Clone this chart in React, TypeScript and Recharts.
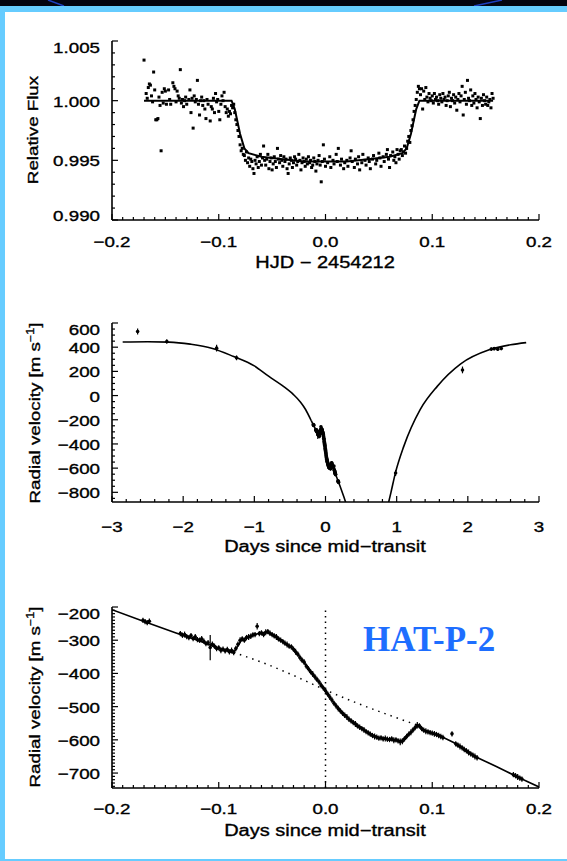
import React from 'react';
import { ComposedChart, ErrorBar, Line, ReferenceLine, Scatter, XAxis, YAxis } from 'recharts';

const FONT = '"Liberation Sans", Arial, Helvetica, sans-serif';
const INK = '#000';
const W = 567;

// ---- top panel: HAT-P-2 transit light curve (x = HJD - 2454212, y = relative flux) ----
const fluxPre: [number, number][] = [
  [-0.170, 1.0034], [-0.168, 1.0006], [-0.167, 1.0002], [-0.166, 1.0011], [-0.165, 1.0014], [-0.164, 1.0013],
  [-0.163, 1.0004], [-0.162, 0.9999], [-0.161, 1.0024], [-0.160, 1.0009], [-0.159, 0.9984], [-0.158, 0.9984],
  [-0.157, 0.9985], [-0.156, 1.0003], [-0.155, 0.9996], [-0.154, 0.9958], [-0.153, 1.0007], [-0.152, 0.9998],
  [-0.151, 1.0010], [-0.150, 1.0008], [-0.149, 0.9997], [-0.147, 1.0009], [-0.146, 1.0001], [-0.145, 0.9997],
  [-0.143, 1.0015], [-0.142, 1.0012], [-0.141, 1.0010], [-0.140, 0.9999], [-0.139, 1.0008], [-0.138, 1.0004],
  [-0.137, 1.0002], [-0.136, 1.0026], [-0.135, 0.9998], [-0.134, 1.0001], [-0.133, 0.9995], [-0.132, 1.0000],
  [-0.131, 1.0003], [-0.130, 0.9997], [-0.128, 1.0001], [-0.127, 1.0009], [-0.126, 0.9990], [-0.125, 1.0002],
  [-0.124, 0.9977], [-0.123, 1.0004], [-0.122, 0.9999], [-0.121, 1.0001], [-0.120, 1.0017], [-0.119, 0.9997],
  [-0.118, 0.9988], [-0.117, 1.0000], [-0.116, 1.0003], [-0.115, 0.9996], [-0.114, 1.0000], [-0.113, 0.9993],
  [-0.112, 0.9985], [-0.111, 1.0001], [-0.110, 0.9997], [-0.108, 0.9983], [-0.107, 0.9995], [-0.106, 0.9993],
  [-0.105, 1.0002], [-0.104, 0.9990], [-0.103, 1.0006], [-0.102, 0.9999], [-0.101, 1.0001], [-0.100, 0.9991],
  [-0.099, 0.9984], [-0.098, 0.9997], [-0.097, 1.0004], [-0.096, 1.0000], [-0.095, 1.0007], [-0.094, 0.9995],
  [-0.093, 0.9990], [-0.092, 0.9993], [-0.091, 0.9987], [-0.090, 0.9991], [-0.089, 0.9989], [-0.088, 0.9996],
  [-0.087, 0.9994], [-0.086, 0.9997], [-0.085, 0.9990], [-0.084, 0.9984], [-0.083, 0.9980], [-0.082, 0.9975],
  [-0.081, 0.9970], [-0.080, 0.9963], [-0.079, 0.9958], [-0.078, 0.9960],
];
const fluxIn: [number, number][] = [
  [-0.077, 0.9955], [-0.076, 0.9954], [-0.075, 0.9950], [-0.074, 0.9957], [-0.073, 0.9948], [-0.072, 0.9952],
  [-0.071, 0.9945], [-0.070, 0.9951], [-0.069, 0.9949], [-0.068, 0.9943], [-0.067, 0.9939], [-0.066, 0.9950],
  [-0.065, 0.9947], [-0.064, 0.9953], [-0.063, 0.9944], [-0.062, 0.9949], [-0.061, 0.9955], [-0.060, 0.9946],
  [-0.059, 0.9952], [-0.058, 0.9962], [-0.057, 0.9950], [-0.056, 0.9946], [-0.055, 0.9951], [-0.054, 0.9955],
  [-0.053, 0.9943], [-0.052, 0.9949], [-0.051, 0.9952], [-0.050, 0.9942], [-0.049, 0.9947], [-0.048, 0.9953],
  [-0.047, 0.9949], [-0.046, 0.9944], [-0.045, 0.9960], [-0.044, 0.9951], [-0.043, 0.9948], [-0.042, 0.9954],
  [-0.041, 0.9950], [-0.040, 0.9945], [-0.039, 0.9953], [-0.038, 0.9949], [-0.037, 0.9951], [-0.036, 0.9943],
  [-0.035, 0.9939], [-0.034, 0.9947], [-0.033, 0.9952], [-0.032, 0.9950], [-0.031, 0.9944], [-0.030, 0.9948],
  [-0.029, 0.9953], [-0.028, 0.9951], [-0.027, 0.9946], [-0.026, 0.9949], [-0.025, 0.9955], [-0.024, 0.9950],
  [-0.023, 0.9942], [-0.022, 0.9948], [-0.021, 0.9952], [-0.020, 0.9949], [-0.019, 0.9945], [-0.018, 0.9951],
  [-0.017, 0.9947], [-0.016, 0.9953], [-0.015, 0.9948], [-0.014, 0.9950], [-0.013, 0.9944], [-0.012, 0.9946],
  [-0.011, 0.9952], [-0.010, 0.9949], [-0.009, 0.9941], [-0.008, 0.9947], [-0.007, 0.9950], [-0.006, 0.9954],
  [-0.005, 0.9946], [-0.004, 0.9932], [-0.003, 0.9949], [-0.002, 0.9963], [-0.001, 0.9951], [0.000, 0.9945],
  [0.002, 0.9948], [0.004, 0.9953], [0.005, 0.9944], [0.007, 0.9950], [0.008, 0.9947], [0.010, 0.9955],
  [0.011, 0.9949], [0.012, 0.9960], [0.014, 0.9946], [0.015, 0.9951], [0.017, 0.9943], [0.018, 0.9948],
  [0.020, 0.9950], [0.021, 0.9945], [0.023, 0.9952], [0.024, 0.9958], [0.025, 0.9949], [0.027, 0.9944],
  [0.028, 0.9951], [0.030, 0.9947], [0.031, 0.9953], [0.032, 0.9942], [0.034, 0.9948], [0.035, 0.9955],
  [0.037, 0.9950], [0.038, 0.9946], [0.040, 0.9952], [0.041, 0.9949], [0.042, 0.9943], [0.044, 0.9951],
  [0.045, 0.9954], [0.047, 0.9947], [0.048, 0.9950], [0.050, 0.9956], [0.051, 0.9952], [0.052, 0.9945],
  [0.054, 0.9953], [0.055, 0.9949], [0.057, 0.9955], [0.058, 0.9959], [0.059, 0.9951], [0.060, 0.9944],
  [0.061, 0.9954], [0.063, 0.9957], [0.064, 0.9950], [0.065, 0.9953], [0.066, 0.9948], [0.067, 0.9959],
  [0.068, 0.9955], [0.069, 0.9951], [0.070, 0.9958], [0.071, 0.9959], [0.072, 0.9954], [0.073, 0.9957],
  [0.074, 0.9962], [0.075, 0.9956], [0.076, 0.9960], [0.077, 0.9966], [0.078, 0.9970], [0.079, 0.9965],
];
const fluxPost: [number, number][] = [
  [0.080, 0.9975], [0.081, 0.9979], [0.082, 0.9984], [0.083, 0.9991], [0.084, 0.9996], [0.085, 1.0001],
  [0.086, 1.0007], [0.087, 1.0012], [0.088, 1.0010], [0.089, 1.0005], [0.090, 1.0010], [0.091, 0.9993],
  [0.092, 1.0008], [0.093, 1.0001], [0.094, 1.0011], [0.095, 1.0003], [0.096, 0.9999], [0.097, 1.0006],
  [0.098, 1.0002], [0.099, 1.0000], [0.100, 1.0004], [0.101, 0.9998], [0.102, 1.0006], [0.103, 1.0001],
  [0.104, 1.0003], [0.105, 1.0000], [0.106, 0.9997], [0.107, 1.0005], [0.108, 1.0002], [0.109, 0.9999],
  [0.110, 1.0006], [0.111, 1.0001], [0.112, 1.0003], [0.113, 0.9996], [0.114, 1.0000], [0.115, 1.0004],
  [0.116, 1.0007], [0.117, 0.9995], [0.118, 1.0002], [0.119, 1.0000], [0.120, 1.0005], [0.121, 0.9998],
  [0.122, 1.0003], [0.123, 0.9992], [0.124, 1.0001], [0.125, 1.0006], [0.126, 0.9999], [0.127, 1.0004],
  [0.128, 1.0012], [0.129, 0.9988], [0.130, 1.0001], [0.131, 1.0007], [0.132, 0.9997], [0.133, 1.0017],
  [0.134, 1.0002], [0.135, 1.0000], [0.136, 1.0009], [0.137, 0.9996], [0.138, 1.0004], [0.139, 0.9998],
  [0.140, 1.0006], [0.141, 1.0001], [0.142, 0.9994], [0.143, 1.0003], [0.144, 0.9999], [0.145, 0.9985],
  [0.146, 1.0002], [0.147, 0.9996], [0.148, 1.0005], [0.149, 1.0000], [0.150, 0.9997], [0.151, 1.0003],
  [0.152, 0.9996], [0.153, 0.9999], [0.154, 1.0001], [0.155, 0.9994], [0.156, 1.0006], [0.157, 1.0002],
];
const fluxModel: [number, number][] = [
  [-0.170, 1.0000], [-0.088, 1.0000], [-0.085, 0.9993], [-0.080, 0.9972], [-0.076, 0.9960], [-0.072, 0.9956],
  [-0.060, 0.9953], [-0.040, 0.9951], [-0.020, 0.9949], [0.000, 0.9949], [0.020, 0.9949], [0.040, 0.9951],
  [0.060, 0.9953], [0.072, 0.9956], [0.076, 0.9960], [0.080, 0.9972], [0.085, 0.9993], [0.088, 1.0000],
  [0.157, 1.0000],
];

// ---- bottom panel: Rossiter-McLaughlin sequence (x = days since mid-transit, y = RV m/s, e = error) ----
const rmObs: [number, number, number][] = [
  [-0.171, -240, 8], [-0.169, -244, 8], [-0.167, -247, 8], [-0.165, -243, 8],
  [-0.136, -280, 8], [-0.134, -285, 8], [-0.132, -283, 9], [-0.130, -289, 8], [-0.128, -292, 8], [-0.126, -286, 8],
  [-0.124, -295, 8], [-0.122, -290, 9], [-0.120, -298, 8], [-0.118, -300, 8], [-0.116, -296, 9], [-0.114, -303, 8],
  [-0.112, -310, 8], [-0.110, -308, 9], [-0.108, -322, 38], [-0.106, -312, 8], [-0.104, -318, 8], [-0.102, -325, 8],
  [-0.100, -323, 8], [-0.098, -330, 9], [-0.096, -327, 8], [-0.094, -332, 8], [-0.092, -328, 8], [-0.090, -335, 8],
  [-0.088, -331, 9], [-0.086, -337, 8], [-0.084, -325, 8], [-0.082, -312, 8], [-0.080, -300, 9], [-0.078, -296, 8],
  [-0.076, -300, 8], [-0.074, -292, 8], [-0.072, -290, 9], [-0.070, -288, 8], [-0.068, -284, 8], [-0.066, -283, 8],
  [-0.064, -258, 10], [-0.062, -280, 8], [-0.060, -278, 8], [-0.058, -283, 8], [-0.056, -276, 9], [-0.054, -274, 8],
  [-0.052, -279, 8], [-0.050, -283, 8], [-0.048, -287, 8], [-0.046, -290, 9], [-0.044, -296, 8], [-0.042, -300, 8],
  [-0.040, -304, 8], [-0.038, -309, 8], [-0.036, -313, 9], [-0.034, -318, 8], [-0.032, -320, 8], [-0.030, -327, 8],
  [-0.028, -335, 9], [-0.026, -342, 8], [-0.024, -352, 8], [-0.022, -360, 8], [-0.020, -366, 9], [-0.018, -378, 8],
  [-0.016, -386, 8], [-0.014, -395, 8], [-0.012, -402, 9], [-0.010, -410, 8], [-0.008, -418, 8], [-0.006, -426, 8],
  [-0.004, -436, 9], [-0.002, -444, 8], [0.000, -452, 8], [0.002, -462, 8], [0.004, -471, 9], [0.006, -480, 8],
  [0.008, -490, 8], [0.010, -498, 8], [0.012, -506, 9], [0.014, -513, 8], [0.016, -520, 8], [0.018, -526, 8],
  [0.020, -531, 9], [0.022, -538, 8], [0.024, -543, 8], [0.026, -548, 8], [0.028, -552, 9], [0.030, -558, 8],
  [0.032, -562, 8], [0.034, -566, 8], [0.036, -570, 9], [0.038, -575, 8], [0.040, -579, 8], [0.042, -583, 8],
  [0.044, -587, 8], [0.046, -590, 9], [0.048, -592, 8], [0.050, -595, 8], [0.052, -594, 8], [0.054, -597, 8],
  [0.056, -596, 9], [0.058, -598, 8], [0.060, -599, 8], [0.062, -597, 8], [0.064, -601, 9], [0.066, -600, 8],
  [0.068, -603, 8], [0.070, -606, 10], [0.072, -604, 9], [0.074, -597, 8], [0.076, -590, 8], [0.078, -583, 8],
  [0.080, -577, 9], [0.082, -570, 8], [0.084, -563, 8], [0.086, -556, 10], [0.088, -558, 8], [0.090, -566, 8],
  [0.092, -571, 8], [0.094, -574, 9], [0.096, -576, 8], [0.098, -578, 8], [0.100, -580, 8], [0.102, -582, 9],
  [0.104, -584, 8], [0.106, -587, 8], [0.108, -590, 8], [0.110, -593, 8], [0.1185, -582, 8],
  [0.122, -612, 8], [0.124, -616, 8], [0.126, -620, 9], [0.128, -624, 8], [0.130, -629, 8], [0.132, -633, 8],
  [0.134, -638, 9], [0.136, -642, 8], [0.138, -646, 8], [0.140, -650, 9], [0.142, -654, 8],
  [0.176, -705, 8], [0.178, -708, 8], [0.180, -712, 9], [0.182, -715, 8], [0.184, -718, 8],
];
const rmModel: [number, number][] = [
  [-0.200, -208], [-0.170, -244], [-0.140, -278], [-0.120, -300], [-0.100, -324], [-0.086, -337],
  [-0.083, -322], [-0.079, -301], [-0.074, -293], [-0.068, -285], [-0.062, -279], [-0.056, -276],
  [-0.050, -282], [-0.044, -295], [-0.038, -309], [-0.032, -322], [-0.026, -342], [-0.020, -367],
  [-0.014, -394], [-0.008, -418], [-0.002, -444], [0.004, -471], [0.010, -498], [0.016, -520],
  [0.022, -537], [0.028, -553], [0.034, -567], [0.040, -579], [0.046, -589], [0.052, -595],
  [0.058, -598], [0.064, -601], [0.070, -604], [0.074, -598], [0.080, -577], [0.086, -558],
  [0.090, -566], [0.096, -576], [0.104, -584], [0.110, -592], [0.120, -608], [0.130, -628],
  [0.140, -650], [0.150, -665], [0.160, -680], [0.170, -696], [0.180, -712], [0.190, -727], [0.200, -742],
];
const rmTrend: [number, number][] = [
  [-0.086, -337], [-0.060, -366], [-0.030, -406], [0.000, -450], [0.030, -490], [0.060, -526], [0.088, -558],
];

// ---- middle panel: full orbit (x = days since mid-transit, y = RV m/s) ----
const orbitLeft: [number, number][] = [
  [-2.85, 443], [-2.50, 445], [-2.20, 442], [-1.90, 425], [-1.60, 392], [-1.30, 325], [-1.00, 245],
  [-0.80, 160], [-0.60, 80], [-0.45, 8], [-0.35, -55], [-0.28, -115], [-0.20, -208],
];
const orbitDip: [number, number][] = [[0.26, -840], [0.32, -950]];
const orbitRight: [number, number][] = [
  [0.86, -950], [0.92, -800], [0.98, -645], [1.10, -420], [1.33, -116], [1.57, 76], [1.90, 262],
  [2.30, 378], [2.60, 420], [2.82, 438],
];
const orbitObs: [number, number, number][] = [
  [-2.64, 530, 25], [-2.23, 447, 18], [-1.53, 392, 28], [-1.25, 312, 20], [0.985, -640, 25],
  [1.925, 212, 28], [2.33, 384, 14], [2.37, 388, 14], [2.42, 383, 14], [2.47, 389, 14],
];

// ---- axis ticks ----
const steps = (a: number, b: number, s: number) => {
  const out: number[] = [];
  const n = Math.round((b - a) / s);
  for (let i = 0; i <= n; i++) out.push(+(a + i * s).toFixed(6));
  return out;
};
const xMajorShort = [-0.2, -0.1, 0, 0.1, 0.2];
const xMinorShort = steps(-0.2, 0.2, 0.01);
const fluxYMajor = [0.990, 0.995, 1.000, 1.005];
const fluxYMinor = steps(0.990, 1.005, 0.001);
const orbitXMajor = [-3, -2, -1, 0, 1, 2, 3];
const orbitXMinor = steps(-3, 3, 0.2);
const orbitYMajor = [-800, -600, -400, -200, 0, 200, 400, 600];
const orbitYMinor = steps(-850, 600, 50);
const rmYMajor = [-700, -600, -500, -400, -300, -200];
const rmYMinor = steps(-740, -200, 10);

const toXY = (a: [number, number][]) => a.map(([x, y]) => ({ x, y }));
const toXYE = (a: [number, number, number][]) => a.map(([x, y, e]) => ({ x, y, e }));

const minus = (s: string) => s.replace('-', '\u2212');
const fmt1 = (v: number) => minus(v.toFixed(1));
const fmt3 = (v: number) => v.toFixed(3);
const fmt0 = (v: number) => minus(String(v));

const SX = 1.25;
const Txt = ({ x, y, anchor = 'middle', rotate = 0, size = 15, children }: any) => (
  <text
    transform={`translate(${x},${y}) rotate(${rotate}) scale(${SX},1)`}
    textAnchor={anchor}
    fontFamily={FONT}
    fontSize={size}
    fill={INK}
    stroke={INK}
    strokeWidth={0.35}
  >
    {children}
  </text>
);

type Side = 'left' | 'right' | 'top' | 'bottom';
interface TickCfg { side: Side; majors: number[]; fmt?: (v: number) => string; lo?: number; hi?: number; gap?: number }
const near = (a: number, b: number) => Math.abs(a - b) < 1e-7;

const makeTick = (c: TickCfg) => (p: any) => {
  const { x, y } = p;
  const v = p.payload.value;
  const major = c.majors.some((m) => near(m, v));
  const len = major ? 6 : 3;
  const d = c.side === 'left' ? [len, 0] : c.side === 'right' ? [-len, 0] : c.side === 'top' ? [0, len] : [0, -len];
  let label = null;
  if (major && c.fmt) {
    if (c.side === 'left') {
      let ly = y + 6;
      if (c.hi !== undefined && near(v, c.hi)) ly += 6;
      if (c.lo !== undefined && near(v, c.lo)) ly -= 5;
      label = <Txt x={x - 12} y={ly} anchor="end">{c.fmt(v)}</Txt>;
    } else {
      label = <Txt x={x} y={y + (c.gap ?? 27)}>{c.fmt(v)}</Txt>;
    }
  }
  return (
    <g>
      <line x1={x} y1={y} x2={x + d[0]} y2={y + d[1]} stroke={INK} strokeWidth={1.2} />
      {label}
    </g>
  );
};

const axisStroke = { stroke: INK, strokeWidth: 1.6 };
const baseAxis = { tickSize: 0, tickMargin: 0, tickLine: false, axisLine: axisStroke, interval: 0 as const, allowDataOverflow: true };

const fluxDot = (p: any) => <rect x={p.cx - 1.5} y={p.cy - 1.5} width={3} height={3} fill={INK} />;
const rvDot = (p: any) => <circle cx={p.cx} cy={p.cy} r={1.8} fill={INK} />;

const VelTitle = ({ x, y }: { x: number; y: number }) => (
  <text transform={`translate(${x},${y}) rotate(-90) scale(${SX},1)`} textAnchor="middle" fontFamily={FONT} fontSize={15} fill={INK} stroke={INK} strokeWidth={0.35}>
    <tspan>Radial velocity [m s</tspan>
    <tspan dy={-6} fontSize={10}>−1</tspan>
    <tspan dy={6}>]</tspan>
  </text>
);

const Frame = ({ top, children }: { top: number; children: React.ReactNode }) => (
  <div style={{ position: 'absolute', left: 0, top, width: W, height: 260 }}>{children}</div>
);

export default function App() {
  return (
    <div style={{ position: 'absolute', left: 0, top: 0, width: W, height: 861, background: '#fff', overflow: 'hidden' }}>
      <div style={{ position: 'absolute', left: 0, top: 0, width: W, height: 6, background: '#04040f' }} />
      <svg style={{ position: 'absolute', left: 0, top: 0 }} width={W} height={6}>
        <path d="M48,0 L64,6" stroke="#1d3fc0" strokeWidth={1.5} />
        <path d="M474,6 L502,0" stroke="#1d3fc0" strokeWidth={1.5} />
      </svg>
      <div style={{ position: 'absolute', left: 0, top: 6, width: W, height: 6, background: '#66ccff' }} />
      <div style={{ position: 'absolute', left: 0, top: 6, width: 5, height: 855, background: '#66ccff' }} />
      <div style={{ position: 'absolute', left: 0, top: 859, width: W, height: 2, background: '#66ccff' }} />

      {/* transit light curve */}
      <Frame top={20}>
        <ComposedChart width={W} height={260} margin={{ top: 21, right: 28, bottom: 30, left: 52 }}>
          <XAxis {...baseAxis} type="number" dataKey="x" domain={[-0.2, 0.2]} ticks={xMinorShort} height={30}
            tick={makeTick({ side: 'bottom', majors: xMajorShort, fmt: fmt1, gap: 27 })}
            label={{ content: () => <Txt x={325} y={248} size={16}>HJD − 2454212</Txt> }} />
          <XAxis {...baseAxis} xAxisId="t" orientation="top" type="number" domain={[-0.2, 0.2]} ticks={xMinorShort} height={0}
            tick={makeTick({ side: 'top', majors: xMajorShort })} />
          <YAxis {...baseAxis} type="number" dataKey="y" domain={[0.990, 1.005]} ticks={fluxYMinor} width={60}
            tick={makeTick({ side: 'left', majors: fluxYMajor, fmt: fmt3, lo: 0.990, hi: 1.005 })}
            label={{ content: () => <Txt x={38} y={110} rotate={-90} size={15}>Relative Flux</Txt> }} />
          <YAxis {...baseAxis} yAxisId="r" orientation="right" type="number" domain={[0.990, 1.005]} ticks={fluxYMinor} width={0}
            tick={makeTick({ side: 'right', majors: fluxYMajor })} />
          <Scatter data={toXY(fluxPre)} dataKey="y" shape={fluxDot} isAnimationActive={false} />
          <Scatter data={toXY(fluxIn)} dataKey="y" shape={fluxDot} isAnimationActive={false} />
          <Scatter data={toXY(fluxPost)} dataKey="y" shape={fluxDot} isAnimationActive={false} />
          <Line data={toXY(fluxModel)} dataKey="y" type="linear" dot={false} stroke={INK} strokeWidth={2} isAnimationActive={false} />
        </ComposedChart>
      </Frame>

      {/* full orbit */}
      <Frame top={300}>
        <ComposedChart width={W} height={260} margin={{ top: 23, right: 28, bottom: 28, left: 52 }}>
          <XAxis {...baseAxis} type="number" dataKey="x" domain={[-3, 3]} ticks={orbitXMinor} height={30}
            tick={makeTick({ side: 'bottom', majors: orbitXMajor, fmt: fmt0, gap: 30 })}
            label={{ content: () => <Txt x={325} y={252} size={16}>Days since mid−transit</Txt> }} />
          <XAxis {...baseAxis} xAxisId="t" orientation="top" type="number" domain={[-3, 3]} ticks={orbitXMinor} height={0}
            tick={makeTick({ side: 'top', majors: orbitXMajor })} />
          <YAxis {...baseAxis} type="number" dataKey="y" domain={[-880, 600]} ticks={orbitYMinor} width={60}
            tick={makeTick({ side: 'left', majors: orbitYMajor, fmt: fmt0, lo: -880, hi: 600 })}
            label={{ content: () => <VelTitle x={40} y={113} /> }} />
          <YAxis {...baseAxis} yAxisId="r" orientation="right" type="number" domain={[-880, 600]} ticks={orbitYMinor} width={0}
            tick={makeTick({ side: 'right', majors: orbitYMajor })} />
          <Line data={toXY(orbitLeft)} dataKey="y" type="monotone" dot={false} stroke={INK} strokeWidth={1.6} isAnimationActive={false} />
          <Line data={toXY([...rmModel, ...orbitDip])} dataKey="y" type="linear" dot={false} stroke={INK} strokeWidth={1.6} isAnimationActive={false} />
          <Line data={toXY(orbitRight)} dataKey="y" type="monotone" dot={false} stroke={INK} strokeWidth={1.6} isAnimationActive={false} />
          <Scatter data={toXYE(rmObs)} dataKey="y" shape={rvDot} isAnimationActive={false}>
            <ErrorBar dataKey="e" direction="y" width={0} stroke={INK} strokeWidth={1.2} />
          </Scatter>
          <Scatter data={toXYE(orbitObs)} dataKey="y" shape={rvDot} isAnimationActive={false}>
            <ErrorBar dataKey="e" direction="y" width={0} stroke={INK} strokeWidth={1.2} />
          </Scatter>
        </ComposedChart>
      </Frame>

      {/* Rossiter-McLaughlin zoom */}
      <Frame top={585}>
        <ComposedChart width={W} height={260} margin={{ top: 22, right: 28, bottom: 27, left: 52 }}>
          <XAxis {...baseAxis} type="number" dataKey="x" domain={[-0.2, 0.2]} ticks={xMinorShort} height={30}
            tick={makeTick({ side: 'bottom', majors: xMajorShort, fmt: fmt1, gap: 26 })}
            label={{ content: () => <Txt x={325} y={251} size={16}>Days since mid−transit</Txt> }} />
          <XAxis {...baseAxis} xAxisId="t" orientation="top" type="number" domain={[-0.2, 0.2]} ticks={xMinorShort} height={0}
            tick={makeTick({ side: 'top', majors: xMajorShort })} />
          <YAxis {...baseAxis} type="number" dataKey="y" domain={[-745, -200]} ticks={rmYMinor} width={60}
            tick={makeTick({ side: 'left', majors: rmYMajor, fmt: fmt0, lo: -745, hi: -200 })}
            label={{ content: () => <VelTitle x={40} y={112} /> }} />
          <YAxis {...baseAxis} yAxisId="r" orientation="right" type="number" domain={[-745, -200]} ticks={rmYMinor} width={0}
            tick={makeTick({ side: 'right', majors: rmYMajor })} />
          <ReferenceLine x={0} stroke={INK} strokeWidth={1.5} strokeDasharray="1.5 4" />
          <Line data={toXY(rmTrend)} dataKey="y" type="monotone" dot={false} stroke={INK} strokeWidth={1.5} strokeDasharray="1.5 5" isAnimationActive={false} />
          <Line data={toXY(rmModel)} dataKey="y" type="linear" dot={false} stroke={INK} strokeWidth={1.6} isAnimationActive={false} />
          <Scatter data={toXYE(rmObs)} dataKey="y" shape={rvDot} isAnimationActive={false}>
            <ErrorBar dataKey="e" direction="y" width={0} stroke={INK} strokeWidth={1.2} />
          </Scatter>
        </ComposedChart>
      </Frame>

      <div style={{ position: 'absolute', left: 363, top: 622, fontFamily: '"Liberation Serif", "Times New Roman", serif', fontWeight: 700, fontSize: 35, lineHeight: '35px', color: '#1e6eff', whiteSpace: 'nowrap' }}>
        HAT-P-2
      </div>
    </div>
  );
}
